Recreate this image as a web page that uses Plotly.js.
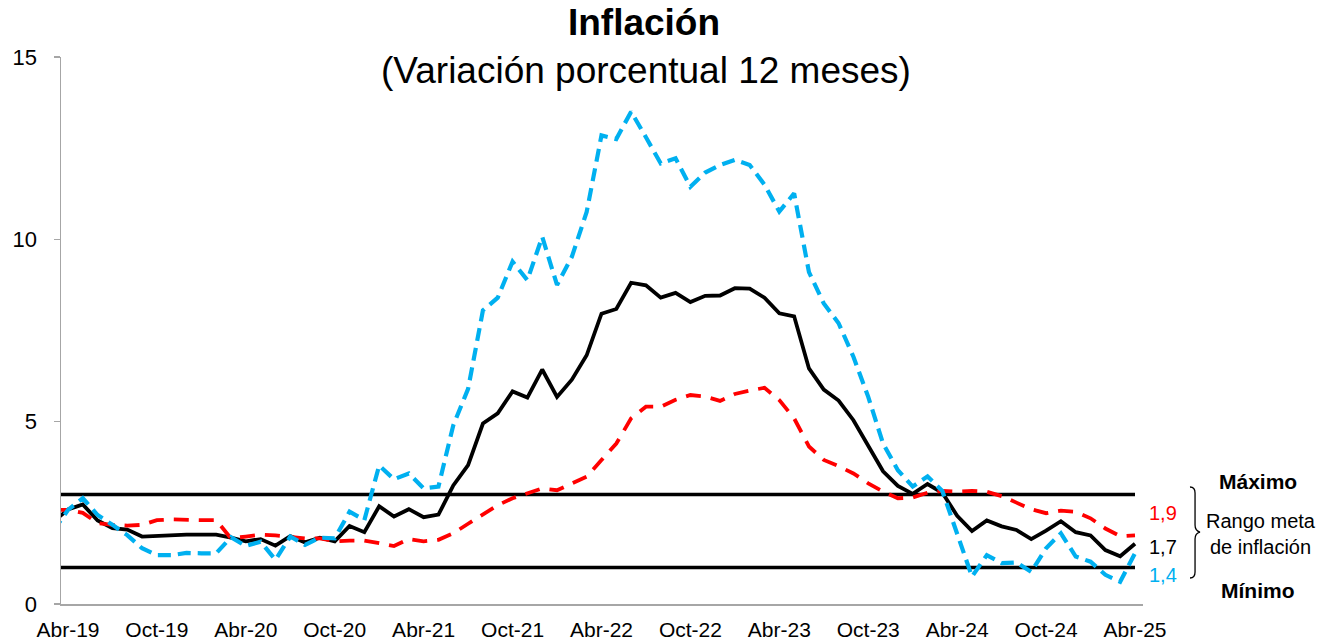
<!DOCTYPE html>
<html>
<head>
<meta charset="utf-8">
<script src="https://cdn.plot.ly/plotly-3.0.1.min.js"></script>
<style>
html,body{margin:0;padding:0;background:#ffffff;}
#chart{width:1320px;height:641px;}
</style>
</head>
<body>
<div id="chart"></div>
<script>
// ---- Data ----
const months = [
  'Mar-19','Abr-19','May-19','Jun-19','Jul-19','Ago-19','Set-19','Oct-19','Nov-19','Dic-19',
  'Ene-20','Feb-20','Mar-20','Abr-20','May-20','Jun-20','Jul-20','Ago-20','Set-20','Oct-20','Nov-20','Dic-20',
  'Ene-21','Feb-21','Mar-21','Abr-21','May-21','Jun-21','Jul-21','Ago-21','Set-21','Oct-21','Nov-21','Dic-21',
  'Ene-22','Feb-22','Mar-22','Abr-22','May-22','Jun-22','Jul-22','Ago-22','Set-22','Oct-22','Nov-22','Dic-22',
  'Ene-23','Feb-23','Mar-23','Abr-23','May-23','Jun-23','Jul-23','Ago-23','Set-23','Oct-23','Nov-23','Dic-23',
  'Ene-24','Feb-24','Mar-24','Abr-24','May-24','Jun-24','Jul-24','Ago-24','Set-24','Oct-24','Nov-24','Dic-24',
  'Ene-25','Feb-25','Mar-25','Abr-25'
];

// Total inflation (black solid)
const inflTotal = [
  2.25, 2.59, 2.73, 2.29, 2.08, 2.04, 1.85, 1.87, 1.87, 1.90,
  1.90, 1.90, 1.82, 1.72, 1.78, 1.60, 1.86, 1.69, 1.82, 1.72, 2.14, 1.97,
  2.68, 2.40, 2.60, 2.38, 2.45, 3.25, 3.81, 4.95, 5.23, 5.83, 5.66, 6.43,
  5.68, 6.15, 6.82, 7.96, 8.09, 8.81, 8.74, 8.40, 8.53, 8.28, 8.45, 8.46,
  8.66, 8.65, 8.40, 7.97, 7.89, 6.46, 5.88, 5.58, 5.04, 4.34, 3.64, 3.24,
  3.02, 3.29, 3.05, 2.42, 2.00, 2.29, 2.13, 2.03, 1.78, 2.01, 2.27, 1.97,
  1.88, 1.48, 1.31, 1.65
];

// Food and energy (light-blue dashed)
const inflAlimEnergia = [
  2.00, 2.58, 2.90, 2.44, 2.17, 1.89, 1.53, 1.34, 1.34, 1.40,
  1.39, 1.39, 1.83, 1.59, 1.71, 1.21, 1.85, 1.62, 1.82, 1.80, 2.53, 2.30,
  3.80, 3.42, 3.58, 3.17, 3.22, 4.90, 5.90, 8.05, 8.40, 9.39, 8.88, 10.07,
  8.75, 9.52, 10.75, 12.85, 12.75, 13.50, 12.80, 12.08, 12.22, 11.44, 11.83, 12.04,
  12.18, 12.04, 11.50, 10.76, 11.26, 9.10, 8.24, 7.70, 6.78, 5.68, 4.40, 3.67,
  3.22, 3.50, 3.10, 1.90, 0.75, 1.34, 1.12, 1.14, 0.88, 1.53, 1.94, 1.30,
  1.16, 0.80, 0.61, 1.39
];

// Excluding food and energy (red dashed)
const inflSinAlimEnergia = [
  2.58, 2.58, 2.50, 2.22, 2.17, 2.15, 2.17, 2.30, 2.32, 2.30,
  2.30, 2.30, 1.80, 1.85, 1.90, 1.88, 1.85, 1.80, 1.80, 1.72, 1.74, 1.74,
  1.67, 1.59, 1.78, 1.72, 1.76, 1.94, 2.20, 2.44, 2.71, 2.90, 3.03, 3.17,
  3.12, 3.31, 3.49, 3.95, 4.40, 5.09, 5.41, 5.41, 5.60, 5.73, 5.69, 5.57,
  5.76, 5.85, 5.93, 5.59, 5.09, 4.32, 3.95, 3.78, 3.58, 3.31, 3.08, 2.90,
  2.92, 3.05, 3.10, 3.08, 3.10, 3.08, 2.96, 2.78, 2.60, 2.49, 2.56, 2.53,
  2.35, 2.07, 1.86, 1.88
];

const tickLabels = ['Abr-19','Oct-19','Abr-20','Oct-20','Abr-21','Oct-21','Abr-22','Oct-22','Abr-23','Oct-23','Abr-24','Oct-24','Abr-25'];
const yTicks = [0, 5, 10, 15];
const rangoMax = 3;
const rangoMin = 1;
const endLabels = ['1,9', '1,7', '1,4'];
const titleText = 'Inflación';
const subtitleText = '(Variación porcentual 12 meses)';

// ---- Chart ----
const FONT = 'Liberation Sans, Arial, Helvetica, sans-serif';
const BLACK = '#000000', BLUE = '#00B0F0', RED = '#FF0000';

const traces = [
  {x: months, y: inflTotal, type: 'scatter', mode: 'lines', name: 'Total',
   line: {color: BLACK, width: 3.8}},
  {x: months, y: inflSinAlimEnergia, type: 'scatter', mode: 'lines', name: 'Sin alimentos y energía',
   line: {color: RED, width: 3.8, dash: '15px,10px'}},
  {x: months, y: inflAlimEnergia, type: 'scatter', mode: 'lines', name: 'Alimentos y energía',
   line: {color: BLUE, width: 4.2, dash: '13px,7px'}}
];

const lastIdx = months.length - 1;

const layout = {
  width: 1320, height: 641,
  margin: {l: 61, r: 177, t: 57, b: 37},
  paper_bgcolor: '#ffffff', plot_bgcolor: '#ffffff',
  showlegend: false,
  font: {family: FONT, color: '#000'},
  title: {
    text: '<b>' + titleText + '</b>',
    font: {family: FONT, size: 37, color: '#000'},
    x: 0.4879, xref: 'container', xanchor: 'center',
    y: 0.9657, yref: 'container', yanchor: 'middle'
  },
  xaxis: {
    type: 'category',
    range: [0.53, 73.54],
    tickmode: 'array', tickvals: tickLabels, ticktext: tickLabels,
    showgrid: false, zeroline: false,
    showline: true, linecolor: '#A6A6A6', linewidth: 1.5,
    ticks: '', tickfont: {family: FONT, size: 21, color: '#000'},
    ticklabelstandoff: 6
  },
  yaxis: {
    range: [0, 15],
    tickmode: 'array', tickvals: yTicks, ticktext: yTicks.map(String),
    showgrid: false, zeroline: false,
    showline: true, linecolor: '#A6A6A6', linewidth: 1.5,
    ticks: 'outside', ticklen: 6, tickcolor: '#A6A6A6', tickwidth: 1.5,
    tickfont: {family: FONT, size: 22, color: '#000'},
    ticklabelstandoff: 12
  },
  shapes: [
    {type: 'line', xref: 'x', yref: 'y', x0: 0, x1: lastIdx, y0: rangoMax, y1: rangoMax,
     line: {color: BLACK, width: 3.5}, layer: 'below'},
    {type: 'line', xref: 'x', yref: 'y', x0: 0, x1: lastIdx, y0: rangoMin, y1: rangoMin,
     line: {color: BLACK, width: 3.5}, layer: 'below'},
    // curly brace for target range
    {type: 'path', xref: 'paper', yref: 'paper',
     path: 'M 1.0434,0.2139 Q 1.0481,0.2139 1.0481,0.2029 L 1.0481,0.1444 Q 1.0481,0.1335 1.0527,0.1316 Q 1.0481,0.1298 1.0481,0.1188 L 1.0481,0.0585 Q 1.0481,0.0475 1.0434,0.0475',
     line: {color: BLACK, width: 1.3}}
  ],
  annotations: [
    {xref: 'paper', yref: 'paper', x: 0.5406, y: 0.976, text: subtitleText, showarrow: false,
     xanchor: 'center', yanchor: 'middle', font: {family: FONT, size: 37, color: BLACK}},
    {xref: 'paper', yref: 'y', x: 1.1063, y: 3.35, text: '<b>Máximo</b>', showarrow: false,
     xanchor: 'center', yanchor: 'middle', font: {family: FONT, size: 21, color: BLACK}},
    {xref: 'paper', yref: 'y', x: 1.1063, y: 0.38, text: '<b>Mínimo</b>', showarrow: false,
     xanchor: 'center', yanchor: 'middle', font: {family: FONT, size: 21, color: BLACK}},
    {xref: 'paper', yref: 'y', x: 1.1090, y: 1.93, text: 'Rango meta<br>de inflación', showarrow: false,
     xanchor: 'center', yanchor: 'middle', align: 'center', font: {family: FONT, size: 20, color: BLACK}},
    {xref: 'paper', yref: 'y', x: 1.0037, y: 2.50, text: endLabels[0], showarrow: false,
     xanchor: 'left', yanchor: 'middle', font: {family: FONT, size: 20, color: RED}},
    {xref: 'paper', yref: 'y', x: 1.0037, y: 1.56, text: endLabels[1], showarrow: false,
     xanchor: 'left', yanchor: 'middle', font: {family: FONT, size: 20, color: BLACK}},
    {xref: 'paper', yref: 'y', x: 1.0037, y: 0.80, text: endLabels[2], showarrow: false,
     xanchor: 'left', yanchor: 'middle', font: {family: FONT, size: 20, color: BLUE}}
  ]
};

Plotly.newPlot('chart', traces, layout, {staticPlot: true, displayModeBar: false});
</script>
</body>
</html>
